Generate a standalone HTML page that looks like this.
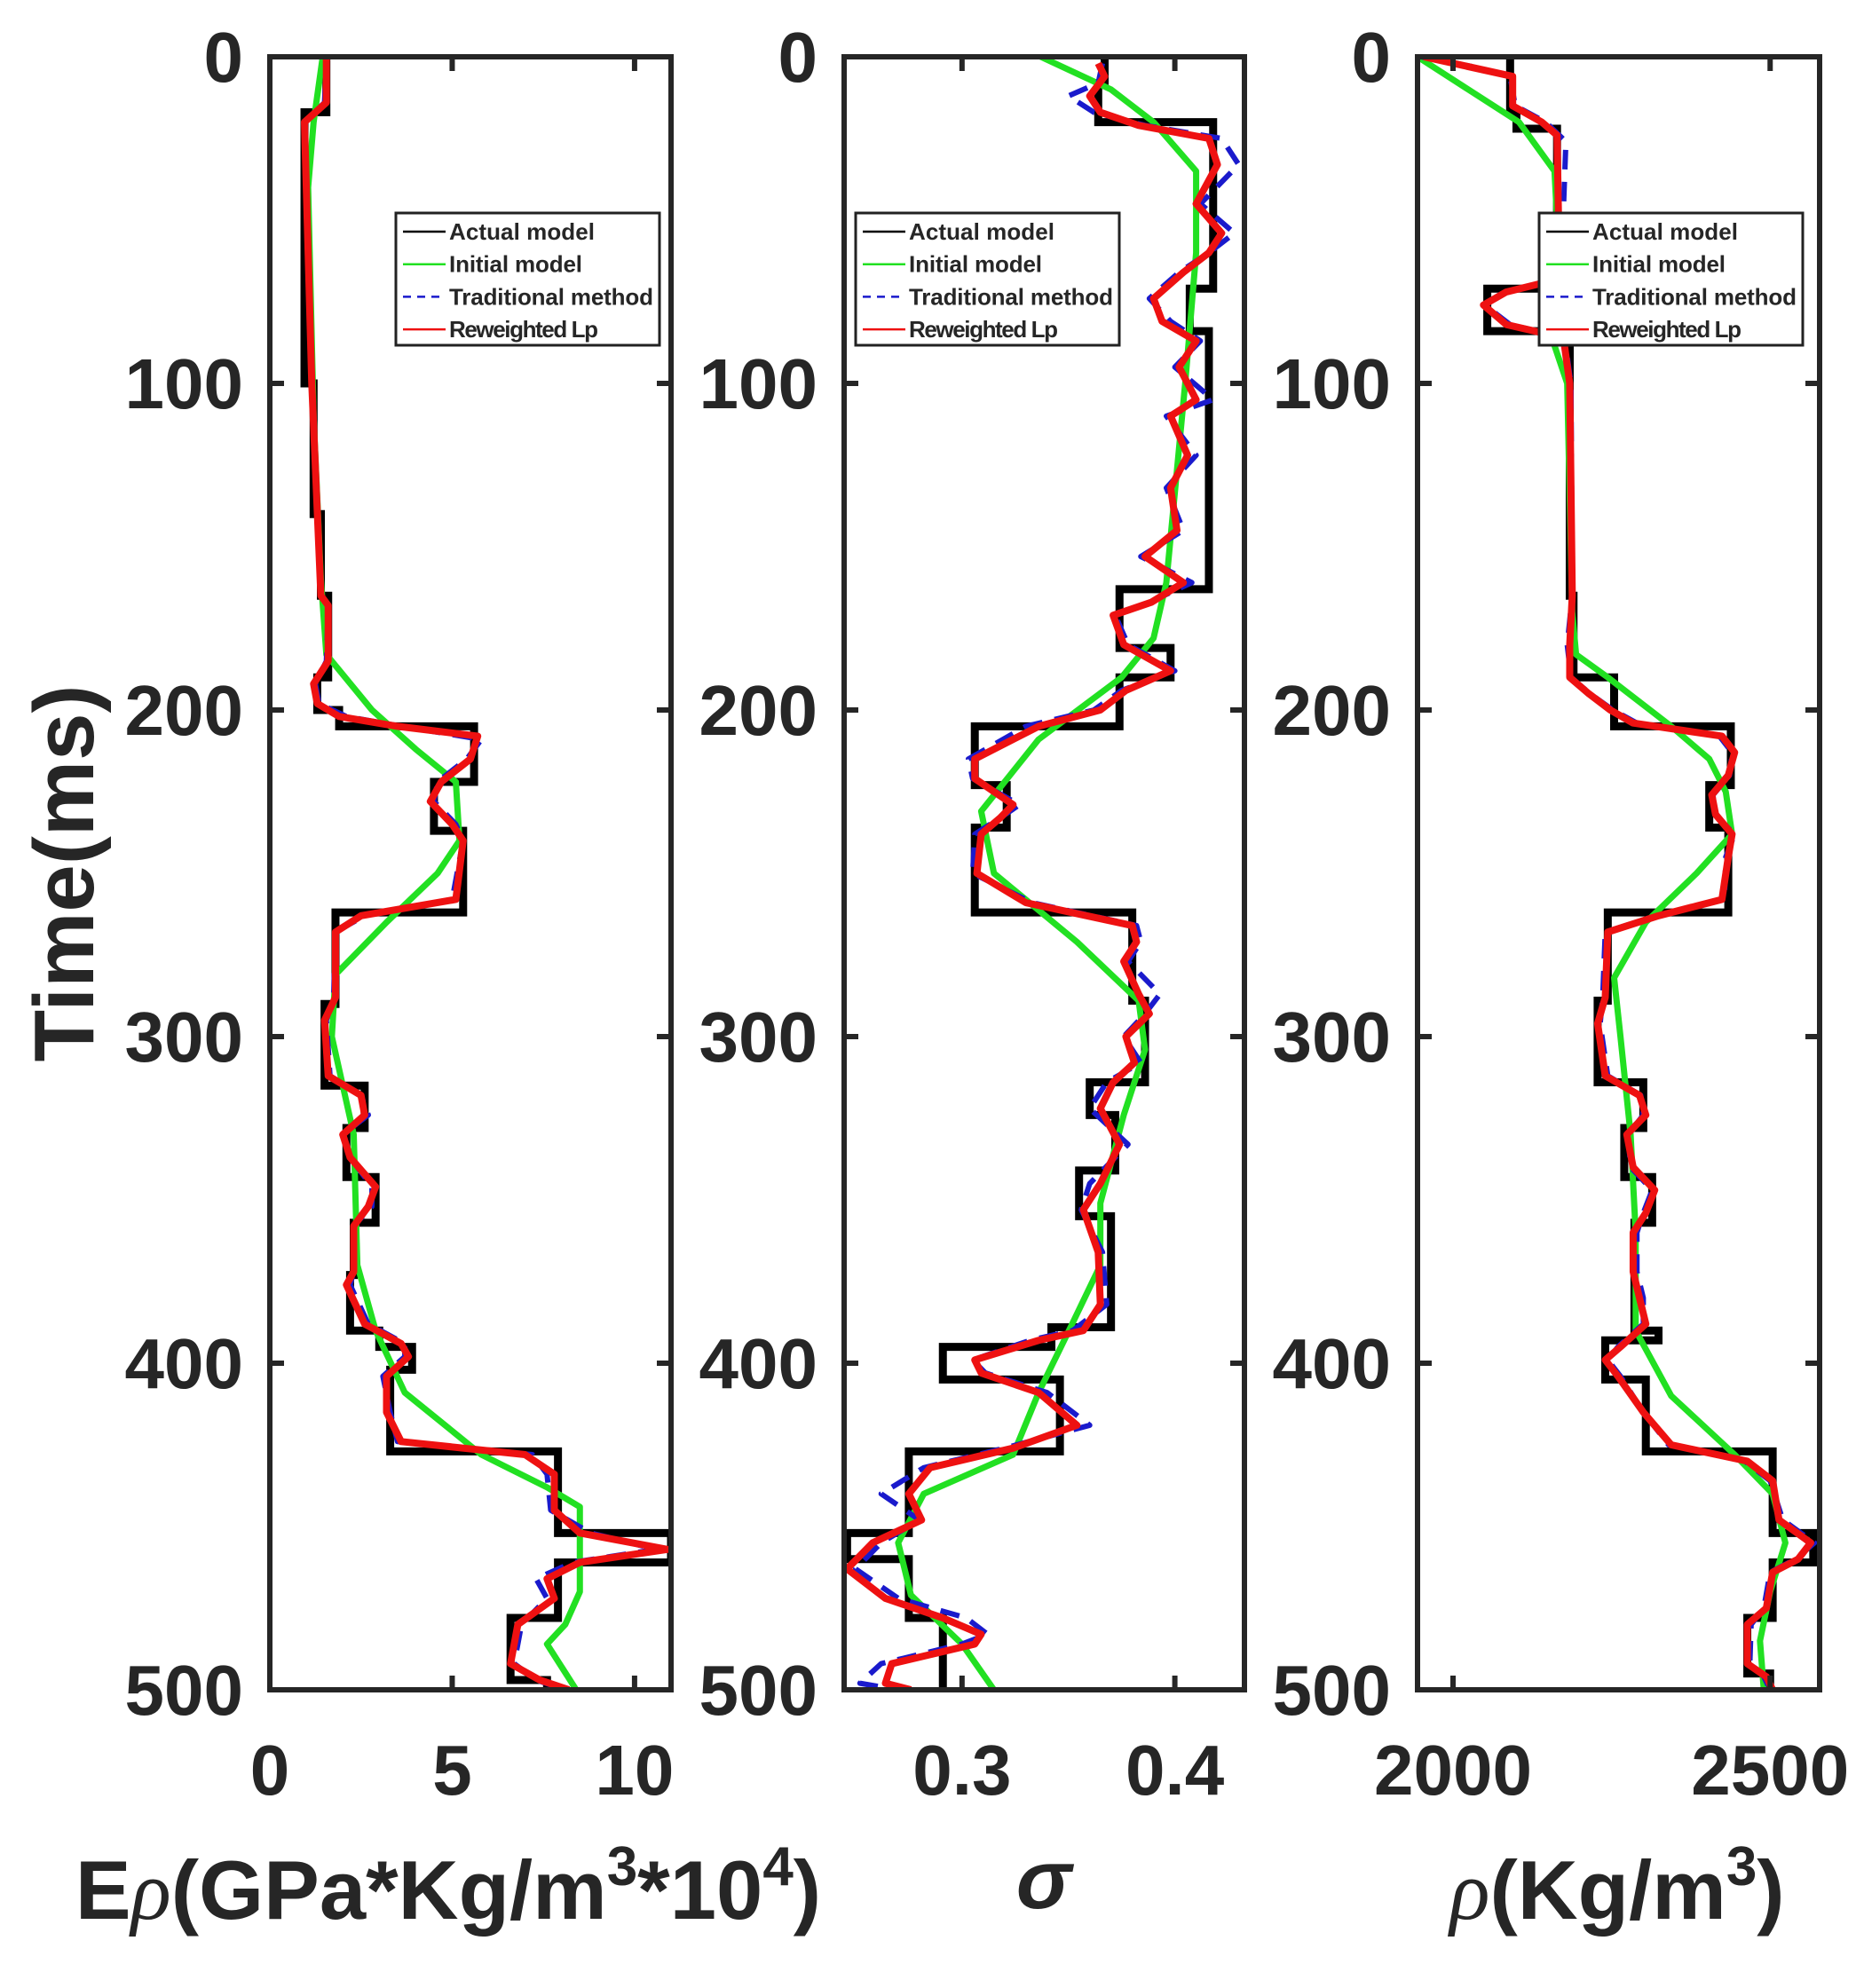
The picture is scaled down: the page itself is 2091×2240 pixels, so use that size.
<!DOCTYPE html>
<html><head><meta charset="utf-8"><style>
html,body{margin:0;padding:0;background:#fff}
svg{display:block}
text{font-family:"Liberation Sans",Arial,sans-serif;font-weight:bold;fill:#262626}
</style></head><body>
<svg id="chart" xmlns="http://www.w3.org/2000/svg" width="2091" height="2240" viewBox="0 0 2091 2240">
<rect x="0" y="0" width="2091" height="2240" fill="#fff"/>
<text x="0" y="0" font-size="96" text-anchor="middle" transform="translate(105,984) rotate(-90)">Time(ms)</text>
<text x="505" y="2162" font-size="94" text-anchor="middle">E<tspan font-style="italic" font-weight="normal" font-family="Liberation Serif">ρ</tspan>(GPa*Kg/m<tspan font-size="62" dy="-38">3</tspan><tspan dy="38">*10</tspan><tspan font-size="62" dy="-38">4</tspan><tspan dy="38">)</tspan></text>
<text x="1176" y="2150" font-size="94" text-anchor="middle" font-style="italic" font-weight="normal" font-family="Liberation Serif">σ</text>
<text x="1822" y="2162" font-size="94" text-anchor="middle"><tspan font-style="italic" font-weight="normal" font-family="Liberation Serif">ρ</tspan>(Kg/m<tspan font-size="62" dy="-38">3</tspan><tspan dy="38">)</tspan></text>
</svg>
<script>
// ---------- shared ----------
const timeTicks = [0,100,200,300,400,500];
// ---------- panel 1 : E*rho ----------
const p1Ticks = [0,5,10];
const p1ActualT = [0,17,100,140,165,190,200,205,222,237,262,290,315,328,343,357,373,390,395,402,427,452,461,478,497,500];
const p1ActualV = [1.55,0.95,1.2,1.4,1.6,1.3,1.9,5.6,4.5,5.3,1.8,1.5,2.6,2.1,2.9,2.3,2.2,3.0,3.9,3.3,7.9,11,7.9,6.6,7.6,7.6];
const p1InitT = [0,20,40,110,160,183,200,212,222,240,250,265,281,300,330,370,390,409,428,438,444,470,480,486,500];
const p1InitV = [1.45,1.2,1.05,1.2,1.4,1.55,2.8,4.0,5.1,5.2,4.6,3.2,1.8,1.7,2.3,2.4,2.9,3.7,5.8,7.6,8.5,8.5,8.1,7.6,8.4];
const p1RedT = [0,14,20,100,165,168,185,192,198,202,205,208,215,222,228,235,240,258,263,268,288,295,312,318,324,330,337,346,352,358,372,376,388,394,398,404,415,424,428,434,445,452,457,461,466,472,480,492,497,500];
const p1RedV = [1.55,1.55,0.95,1.15,1.4,1.6,1.6,1.2,1.3,1.9,3.5,5.7,5.5,4.7,4.4,5.0,5.3,5.1,2.5,1.8,1.8,1.5,1.6,2.5,2.6,2.0,2.2,2.9,2.7,2.3,2.3,2.1,2.6,3.6,3.8,3.2,3.2,3.6,7.0,7.8,7.8,8.5,10.9,8.5,7.6,7.8,6.8,6.6,7.4,8.2];
const p1BlueT = [0,14,20,100,165,168,185,192,198,202,205,209,215,222,228,235,240,258,263,268,288,295,312,318,324,330,337,346,352,358,372,376,388,394,398,404,415,424,428,434,445,452,457,461,466,472,480,492,497,500];
const p1BlueV = [1.55,1.5,0.95,1.15,1.4,1.6,1.55,1.25,1.35,2.1,3.6,5.8,5.4,4.6,4.5,5.1,5.3,5.0,2.6,1.8,1.75,1.55,1.65,2.5,2.7,2.0,2.2,2.8,2.8,2.3,2.3,2.2,2.7,3.7,3.7,3.1,3.3,3.5,7.2,7.6,7.7,8.8,10.6,8.3,7.3,7.6,6.9,6.7,7.3,8.1];
// ---------- panel 2 : sigma ----------
const p2Ticks = [0.3,0.4];
const p2ActualT = [0,8,20,71,84,163,181,190,205,223,236,262,289,314,324,341,355,389,395,405,427,452,460,478,500];
const p2ActualV = [0.367,0.364,0.418,0.407,0.416,0.374,0.398,0.374,0.306,0.321,0.306,0.380,0.386,0.360,0.372,0.355,0.370,0.342,0.291,0.346,0.275,0.246,0.275,0.291,0.291];
const p2InitT = [0,10,20,35,60,99,161,178,190,209,231,250,271,289,304,324,351,370,389,409,428,440,455,471,486,500];
const p2InitV = [0.337,0.370,0.390,0.410,0.410,0.405,0.396,0.390,0.375,0.336,0.309,0.315,0.354,0.383,0.386,0.376,0.365,0.365,0.351,0.336,0.324,0.282,0.270,0.276,0.300,0.315];
const p2RedT = [2,6,12,17,21,25,33,45,54,60,66,74,81,87,95,105,110,122,132,145,153,161,167,171,180,188,194,200,205,215,221,229,233,238,250,259,266,271,277,287,293,300,308,314,322,333,345,353,366,382,390,393,399,403,409,419,426,432,440,448,455,463,472,478,483,486,492,498,500];
const p2RedV = [0.364,0.367,0.360,0.365,0.383,0.416,0.420,0.410,0.422,0.416,0.404,0.390,0.394,0.410,0.402,0.410,0.398,0.406,0.398,0.401,0.386,0.404,0.389,0.371,0.376,0.398,0.377,0.365,0.336,0.306,0.306,0.324,0.318,0.309,0.307,0.330,0.380,0.382,0.376,0.383,0.388,0.377,0.381,0.371,0.365,0.374,0.365,0.357,0.364,0.365,0.357,0.336,0.306,0.309,0.336,0.354,0.324,0.285,0.275,0.281,0.258,0.246,0.264,0.291,0.309,0.306,0.267,0.264,0.276];
const p2BlueT = [2,8,12,17,21,25,33,45,54,60,66,74,81,87,95,105,110,122,132,145,153,161,167,171,180,188,194,200,205,215,221,229,233,238,250,259,266,271,277,287,293,300,308,314,322,333,345,353,366,382,390,393,399,403,409,419,426,432,440,448,455,463,472,478,483,486,492,498,500];
const p2BlueV = [0.366,0.364,0.350,0.362,0.386,0.422,0.430,0.412,0.428,0.416,0.402,0.388,0.398,0.412,0.400,0.418,0.396,0.410,0.396,0.404,0.384,0.408,0.388,0.372,0.378,0.400,0.375,0.362,0.330,0.303,0.305,0.327,0.318,0.306,0.305,0.333,0.382,0.384,0.378,0.393,0.386,0.376,0.384,0.368,0.360,0.378,0.360,0.356,0.366,0.368,0.352,0.332,0.305,0.311,0.340,0.360,0.320,0.282,0.262,0.280,0.262,0.250,0.270,0.302,0.312,0.300,0.262,0.252,0.270];
// ---------- panel 3 : rho ----------
const p3Ticks = [2000,2500];
const p3ActualT = [0,17,22,71,84,165,190,205,223,236,262,289,314,328,343,357,390,393,405,427,452,461,478,495,500];
const p3ActualV = [2090,2100,2164,2054,2184,2190,2254,2438,2404,2434,2244,2228,2300,2270,2314,2286,2324,2240,2304,2504,2568,2504,2464,2500,2500];
const p3InitT = [0,10,20,35,50,65,85,100,170,183,190,205,215,225,238,250,265,282,300,330,360,390,410,428,440,455,470,485,500];
const p3InitV = [1944,2024,2104,2160,2164,2144,2154,2180,2188,2194,2244,2344,2404,2430,2440,2384,2304,2254,2264,2280,2288,2288,2344,2444,2504,2524,2500,2484,2490];
const p3RedT = [0,3,6,15,20,24,68,72,76,82,86,100,165,180,190,195,200,204,208,213,220,226,232,238,245,258,263,268,288,296,312,318,324,330,340,347,354,360,372,380,388,395,399,404,415,425,430,436,448,455,460,464,475,480,492,496,500];
const p3RedV = [1954,2024,2094,2094,2140,2164,2168,2084,2048,2084,2174,2184,2188,2184,2184,2214,2248,2284,2424,2444,2434,2408,2414,2440,2434,2424,2324,2244,2240,2228,2240,2294,2304,2274,2284,2318,2304,2284,2284,2294,2304,2264,2240,2260,2300,2344,2464,2504,2514,2564,2544,2504,2494,2464,2464,2494,2504];
const p3BlueT = [0,3,6,15,20,26,68,72,76,82,86,100,165,180,190,195,200,204,208,213,220,226,232,238,245,258,263,268,288,296,312,318,324,330,340,347,354,360,372,380,388,395,399,404,415,425,430,436,448,455,460,464,475,480,492,496,500];
const p3BlueV = [1950,2030,2090,2098,2146,2178,2170,2080,2050,2090,2176,2186,2188,2180,2186,2216,2252,2290,2420,2440,2436,2410,2412,2444,2430,2428,2320,2240,2236,2232,2244,2296,2300,2276,2280,2314,2300,2290,2290,2300,2300,2260,2244,2264,2300,2340,2460,2500,2520,2570,2540,2500,2490,2470,2468,2490,2500];

const NS = 'http://www.w3.org/2000/svg';
const svg = document.getElementById('chart');
const Y0 = 64, Y1 = 1904;
function yScale(t){ return Y0 + (t/500)*(Y1-Y0); }

function mk(tag, attrs, parent){
  const e = document.createElementNS(NS, tag);
  for (const k in attrs) e.setAttribute(k, attrs[k]);
  (parent||svg).appendChild(e);
  return e;
}

function stepPath(T, V, xs){
  let d = '';
  for (let i=0;i<T.length;i++){
    const y = yScale(T[i]), x = xs(V[i]);
    if (i===0) d += 'M'+x+','+y;
    else d += ' L'+xs(V[i-1])+','+y+' L'+x+','+y;
  }
  d += ' L'+xs(V[V.length-1])+','+yScale(500);
  return d;
}
function linePath(T, V, xs){
  return T.map((t,i)=>(i?'L':'M')+xs(V[i])+','+yScale(t)).join(' ');
}

function panel(name, xl, xr, vmin, vmax, ticks, tickFmt, A, I, B, R, legendX, showYLabels){
  const xs = v => xl + (v-vmin)/(vmax-vmin)*(xr-xl);
  const g = mk('g', {});
  
  
  const clipId = name+'-clip';
  const cp = mk('clipPath', {id: clipId}, g);
  mk('rect', {x: xl, y: Y0, width: xr-xl, height: Y1-Y0}, cp);
  const plot = mk('g', {'clip-path': 'url(#'+clipId+')'}, g);
  const pa = mk('path', {d: stepPath(A[0],A[1],xs), fill:'none', stroke:'#000', 'stroke-width':9, 'stroke-linejoin':'miter'}, plot);
  
  
  const pi = mk('path', {d: linePath(I[0],I[1],xs), fill:'none', stroke:'#22e022', 'stroke-width':7, 'stroke-linejoin':'round'}, plot);
  
  
  const pb = mk('path', {d: linePath(B[0],B[1],xs), fill:'none', stroke:'#1a1acc', 'stroke-width':6, 'stroke-dasharray':'22,14', 'stroke-linejoin':'round'}, plot);
  
  
  const pr = mk('path', {d: linePath(R[0],R[1],xs), fill:'none', stroke:'#ee1111', 'stroke-width':8, 'stroke-linejoin':'round'}, plot);
  
  
  const fr = mk('rect', {x: xl, y: Y0, width: xr-xl, height: Y1-Y0, fill:'none', stroke:'#262626', 'stroke-width':6}, g);
  
  
  timeTicks.forEach(t=>{
    const y = yScale(t);
    mk('line', {x1:xl, x2:xl+16, y1:y, y2:y, stroke:'#262626', 'stroke-width':6}, g);
    mk('line', {x1:xr, x2:xr-16, y1:y, y2:y, stroke:'#262626', 'stroke-width':6}, g);
    if (showYLabels){
      const tx = mk('text', {x: xl-30, y: y+28, 'font-size':80, 'text-anchor':'end'}, g);
      
      
      tx.textContent = t;
    }
  });
  ticks.forEach(v=>{
    const x = xs(v);
    mk('line', {x1:x, x2:x, y1:Y1, y2:Y1-16, stroke:'#262626', 'stroke-width':6}, g);
    mk('line', {x1:x, x2:x, y1:Y0, y2:Y0+16, stroke:'#262626', 'stroke-width':6}, g);
    const tx = mk('text', {x: x, y: 2022, 'font-size':80, 'text-anchor':'middle'}, g);
    
    
    tx.textContent = tickFmt(v);
  });
  const lg = mk('g', {}, g);
  
  
  mk('rect', {x: legendX, y: 240, width: 297, height: 149, fill:'#fff', stroke:'#222', 'stroke-width':3}, lg);
  const labels = ['Actual model','Initial model','Traditional method','Reweighted Lp'];
  const cols = ['#000','#22e022','#1a1acc','#ee1111'];
  labels.forEach((lab,i)=>{
    const y = 261 + i*36.7;
    const ln = mk('line', {x1: legendX+8, x2: legendX+56, y1:y, y2:y, stroke: cols[i], 'stroke-width': 2.5}, lg);
    if (i===2) ln.setAttribute('stroke-dasharray','9,7');
    const tx = mk('text', {x: legendX+60, y: y+9, 'font-size':26}, lg);
    
    
    tx.setAttribute('textLength', i===0?164:i===1?150:i===2?230:168);
    tx.textContent = lab;
  });
}

panel('elastic-density', 304, 756, 0, 11, p1Ticks, v=>String(v),
  [p1ActualT,p1ActualV],[p1InitT,p1InitV],[p1BlueT,p1BlueV],[p1RedT,p1RedV], 446, true);
panel('poisson-ratio', 951, 1402, 0.2446, 0.4327, p2Ticks, v=>v.toFixed(1),
  [p2ActualT,p2ActualV],[p2InitT,p2InitV],[p2BlueT,p2BlueV],[p2RedT,p2RedV], 964, true);
panel('density', 1597, 2050, 1944, 2578, p3Ticks, v=>String(v),
  [p3ActualT,p3ActualV],[p3InitT,p3InitV],[p3BlueT,p3BlueV],[p3RedT,p3RedV], 1734, true);
</script>
</body></html>
